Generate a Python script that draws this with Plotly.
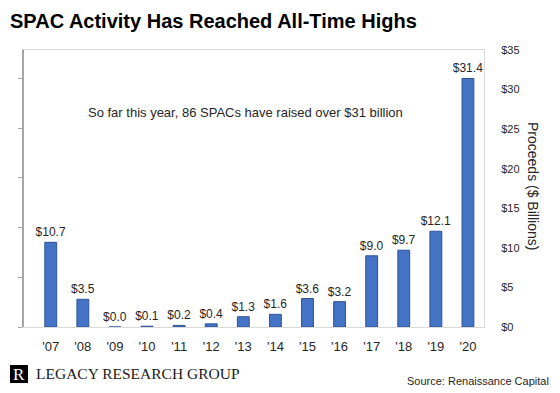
import plotly.graph_objects as go

years = ["'07", "'08", "'09", "'10", "'11", "'12", "'13", "'14", "'15", "'16", "'17", "'18", "'19", "'20"]
proceeds = [10.7, 3.5, 0.0, 0.1, 0.2, 0.4, 1.3, 1.6, 3.6, 3.2, 9.0, 9.7, 12.1, 31.4]
y_ticks = [0, 5, 10, 15, 20, 25, 30, 35]

FONT = "Liberation Sans, Arial, sans-serif"
SERIF = "Liberation Serif, Times New Roman, serif"
OFF = 8  # page body margin
W, H = 560 - OFF, 393 - OFF
# plot area in page pixels: x 24..484, y 50..327
L = 24 - OFF
T = 50 - OFF
R = W - (484 - OFF)
B = H - (327 - OFF)
PW, PH = W - L - R, H - T - B

def px(x):
    return (x - OFF - L) / PW

def py(y):
    return (H - B - (y - OFF)) / PH

fig = go.Figure()
fig.add_trace(go.Bar(
    x=years, y=proceeds,
    marker=dict(color="#4472C4", line=dict(color="#2F5597", width=1)),
    texttemplate="$%{y:.1f}", textposition="outside", cliponaxis=False,
    constraintext="none",
    textfont=dict(family=FONT, size=12, color="#262626"),
    yaxis="y", hoverinfo="skip",
))
# invisible trace to hold the left tick-mark axis
fig.add_trace(go.Scatter(x=[years[0]], y=[0], yaxis="y2", mode="markers",
                         marker=dict(opacity=0), showlegend=False, hoverinfo="skip"))

fig.update_layout(
    width=W, height=H,
    margin=dict(l=L, r=R, t=T, b=B, autoexpand=False),
    paper_bgcolor="white", plot_bgcolor="white",
    showlegend=False,
    bargap=0.63,
    title=dict(text="<b>SPAC Activity Has Reached All-Time Highs</b>",
               x=(10 - OFF) / W, xanchor="left", xref="container",
               y=1 - (21 - OFF) / H, yanchor="middle", yref="container",
               pad=dict(l=0, r=0, t=0, b=0),
               font=dict(family=FONT, size=20, color="#000000")),
    xaxis=dict(showline=True, linecolor="#d9d9d9", linewidth=1, mirror=True,
               ticks="outside", ticklen=7, tickcolor="rgba(0,0,0,0)",
               tickfont=dict(family=FONT, size=13, color="#262626"),
               showgrid=False, zeroline=False, automargin=False),
    yaxis=dict(side="right", range=[0, 35], tickvals=y_ticks,
               ticktext=["$" + str(v) for v in y_ticks],
               showline=True, linecolor="#d9d9d9", linewidth=1,
               ticks="outside", ticklen=14, tickcolor="rgba(0,0,0,0)",
               tickfont=dict(family=FONT, size=11, color="#262626"),
               showgrid=False, zeroline=False, automargin=False),
    yaxis2=dict(overlaying="y", side="left", range=[0, 5.57], dtick=1,
                showticklabels=False, showline=True, linecolor="#a6a6a6", linewidth=1.5,
                ticks="outside", ticklen=4, tickcolor="#a6a6a6", tickwidth=1,
                showgrid=False, zeroline=False, automargin=False),
)

# logo box
fig.add_shape(type="rect", xref="paper", yref="paper",
              x0=px(10), x1=px(28), y0=py(383), y1=py(365),
              fillcolor="#000000", line=dict(width=0), layer="above")
fig.add_annotation(text="R", x=px(19), y=py(374), xref="paper", yref="paper",
                   xanchor="center", yanchor="middle",
                   showarrow=False, font=dict(family=SERIF, size=17, color="#ffffff"))

fig.add_annotation(text="Proceeds ($ Billions)", textangle=90,
                   x=px(543), y=py(186), xref="paper", yref="paper",
                   showarrow=False, font=dict(family=FONT, size=14, color="#262626"))
fig.add_annotation(text="So far this year, 86 SPACs have raised over $31 billion",
                   x=px(245), y=py(103), xref="paper", yref="paper",
                   showarrow=False, font=dict(family=FONT, size=13, color="#262626"))
fig.add_annotation(text="LEGACY RESEARCH GROUP", x=px(34), y=py(373),
                   xref="paper", yref="paper", xanchor="left", yanchor="middle",
                   showarrow=False, font=dict(family=SERIF, size=15.5, color="#1a1a1a"))
fig.add_annotation(text="Source: Renaissance Capital", x=px(551), y=py(381),
                   xref="paper", yref="paper", xanchor="right", yanchor="middle",
                   showarrow=False, font=dict(family=FONT, size=11, color="#262626"))

fig.write_html("out.html")
